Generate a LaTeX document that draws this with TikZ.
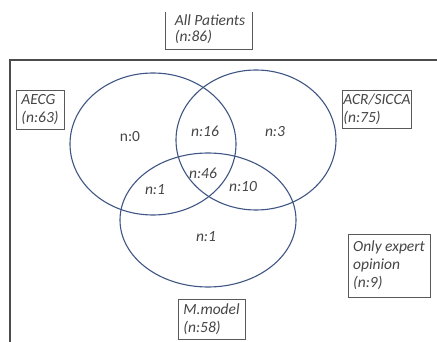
\documentclass[tikz,border=0pt]{standalone}
\usepackage{fontspec}
\setmainfont{Carlito}
\usetikzlibrary{positioning}
\definecolor{vennblue}{HTML}{3F5584}
\definecolor{txtgray}{HTML}{454545}

\begin{document}
\begin{tikzpicture}[x=1pt,y=-1pt,font=\fontsize{15.5}{18}\selectfont\itshape,
  lbl/.style={draw=black!65,line width=0.9pt,align=left,inner sep=1pt,text=txtgray},
  set/.style={draw=vennblue,line width=1.1pt},
  cnt/.style={text=txtgray,inner sep=1pt}]
\useasboundingbox (0,0) rectangle (437,342);
% frame of all patients (runs off the page to the right and below)
\draw[black!70,line width=1.2pt] (10,342) |- (437,60);
% the three sets
\draw[set] (153,144) ellipse [x radius=83,y radius=71];
\draw[set] (256,140) ellipse [x radius=80,y radius=70];
\draw[set] (208,220) ellipse [x radius=88,y radius=67];
% counts
\node[cnt,font=\fontsize{15.5}{18}\selectfont\upshape] (aonly) at (130,137) {n:0};
\node[cnt] (ac) at (205,131) {n:16};
\node[cnt] (conly) at (275,132) {n:3};
\node[cnt] (acm) at (203,173) {n:46};
\node[cnt] (am) at (155,190) {n:1};
\node[cnt] (cm) at (243,187) {n:10};
\node[cnt] (monly) at (206,237) {n:1};
% set labels
\node[cnt,align=left,font=\fontsize{15.5}{15.5}\selectfont\itshape] (all) at (210,29) {All Patients\\(n:86)};
\draw[black!65,line width=0.9pt] (165,12) |- (252,49) -- (252,12);
\node[lbl,minimum width=48pt,minimum height=39pt] (aecg) at (40,109.5) {AECG\\(n:63)};
\node[lbl,minimum width=68pt,minimum height=38pt] (acr) at (377,109) {ACR/SICCA\\(n:75)};
\node[lbl,minimum width=67pt,minimum height=40pt] (mmod) at (211.5,319) {M.model\\(n:58)};
\node[lbl,minimum width=82pt,minimum height=63pt] (expert) at (389,265.5) {Only expert\\opinion\\(n:9)};
\end{tikzpicture}
\end{document}
